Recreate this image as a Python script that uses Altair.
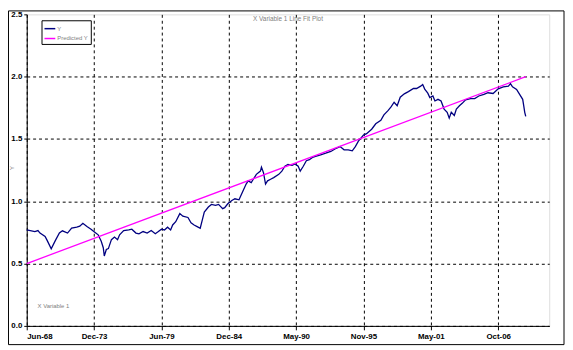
import json
import altair as alt
import pandas as pd

# ---- data ----
months = [0, 8, 11, 13, 18, 20, 24, 28, 32, 35, 40, 44, 49, 52, 55, 59, 63, 67, 70, 73,
          75, 76, 78, 80, 83, 86, 89, 91, 95, 100, 103, 107, 110, 114, 118, 122, 126, 129,
          132, 135, 138, 141, 143, 146, 150, 153, 158, 161, 164, 167, 170, 172, 174, 178,
          181, 185, 188, 192, 194, 197, 201, 204, 208, 212, 215, 217, 220, 222, 225, 229,
          230, 232, 234, 236, 239, 242, 247, 250, 253, 256, 260, 263, 266, 268, 271, 274,
          277, 280, 283, 288, 293, 298, 302, 307, 311, 315, 319, 322, 325, 330, 333, 338,
          342, 347, 350, 354, 357, 360, 363, 366, 370, 374, 379, 382, 386, 388, 390, 393,
          395, 398, 400, 403, 406, 409, 412, 414, 416, 419, 421, 424, 427, 430, 435, 439,
          443, 448, 452, 457, 462, 467, 472, 474, 476, 480, 483, 486, 487, 488, 489]
y_values = [0.77, 0.757, 0.765, 0.745, 0.718, 0.686, 0.618, 0.684, 0.745, 0.763, 0.745,
            0.784, 0.792, 0.80, 0.823, 0.797, 0.776, 0.75, 0.731, 0.679, 0.627, 0.561, 0.613,
            0.62, 0.692, 0.713, 0.692, 0.731, 0.765, 0.77, 0.776, 0.745, 0.739, 0.757, 0.745,
            0.765, 0.739, 0.757, 0.776, 0.77, 0.792, 0.77, 0.81, 0.836, 0.901, 0.88, 0.87,
            0.828, 0.81, 0.797, 0.784, 0.849, 0.914, 0.954, 0.975, 0.967, 0.975, 0.941, 0.949,
            0.98, 1.006, 1.02, 1.012, 1.085, 1.138, 1.164, 1.15, 1.177, 1.216, 1.242, 1.274,
            1.229, 1.138, 1.164, 1.177, 1.19, 1.216, 1.242, 1.281, 1.295, 1.289, 1.30, 1.281,
            1.242, 1.281, 1.326, 1.334, 1.352, 1.36, 1.373, 1.386, 1.40, 1.42, 1.439, 1.413,
            1.413, 1.405, 1.439, 1.483, 1.531, 1.543, 1.578, 1.622, 1.649, 1.693, 1.727, 1.757,
            1.795, 1.767, 1.835, 1.862, 1.88, 1.905, 1.905, 1.924, 1.937, 1.90, 1.868, 1.832,
            1.845, 1.805, 1.818, 1.805, 1.74, 1.714, 1.667, 1.714, 1.688, 1.74, 1.767, 1.788,
            1.814, 1.824, 1.824, 1.845, 1.858, 1.871, 1.865, 1.902, 1.918, 1.924, 1.944, 1.918,
            1.897, 1.858, 1.818, 1.767, 1.714, 1.682]
pred_months = [0, 489]
pred_values = [0.50, 2.00]
tick_months = [0, 66, 132, 198, 264, 330, 396, 462]
tick_labels = ["Jun-68", "Dec-73", "Jun-79", "Dec-84", "May-90", "Nov-95", "May-01", "Oct-06"]
y_ticks = [0.0, 0.5, 1.0, 1.5, 2.0, 2.5]
series_names = ["Y", "Predicted Y"]
series_colors = ["#000080", "#FF00FF"]

W, H = 530, 316
FONT = "Liberation Sans"

df_y = pd.DataFrame({"m": months, "v": y_values, "series": series_names[0]})
df_p = pd.DataFrame({"m": pred_months, "v": pred_values, "series": series_names[1]})

label_expr = json.dumps(tick_labels) + "[round(datum.value / 66)]"

x_enc = alt.X("m:Q", scale=alt.Scale(domain=[0, 512], nice=False, zero=False),
              axis=alt.Axis(values=tick_months, labelExpr=label_expr, title=None,
                            grid=True, gridDash=[3, 3], gridColor="black", gridWidth=1,
                            domainColor="black", domainWidth=1, tickColor="black", tickSize=4,
                            labelFont=FONT, labelFontSize=8, labelFontWeight="bold",
                            labelColor="black", labelPadding=3))
y_enc = alt.Y("v:Q", scale=alt.Scale(domain=[0, 2.5], nice=False),
              axis=alt.Axis(values=y_ticks, format=".1f", title=None,
                            grid=True, gridDash=[3, 3], gridColor="black", gridWidth=1,
                            gridOpacity={"condition": {"test": "datum.value >= 2.5", "value": 0}, "value": 1},
                            domainColor="black", domainWidth=1, tickColor="black", tickSize=3,
                            labelFont=FONT, labelFontSize=8, labelFontWeight="bold",
                            labelColor="black", labelPadding=2))
color_enc = alt.Color("series:N",
                      scale=alt.Scale(domain=series_names, range=series_colors),
                      legend=alt.Legend(title=None, orient="none", legendX=15, legendY=6,
                                        direction="vertical", strokeColor="black",
                                        fillColor="white", padding=2, symbolType="stroke",
                                        symbolSize=120, symbolStrokeWidth=1.5,
                                        labelFont=FONT, labelFontSize=6, labelColor="#808080",
                                        rowPadding=0, labelOffset=1, cornerRadius=0))

line_y = alt.Chart(df_y).mark_line(strokeWidth=1.3).encode(x=x_enc, y=y_enc, color=color_enc)
line_p = alt.Chart(df_p).mark_line(strokeWidth=1.3).encode(x=x_enc, y=y_enc, color=color_enc)

title_txt = alt.Chart(alt.Data(values=[{"t": "X Variable 1 Line Fit Plot"}])).mark_text(
    font=FONT, fontSize=6.5, color="#808080", align="center", baseline="middle"
).encode(x=alt.value(W / 2), y=alt.value(5), text="t:N")

xvar_txt = alt.Chart(alt.Data(values=[{"t": "X Variable 1"}])).mark_text(
    font=FONT, fontSize=6, color="#808080", align="left", baseline="middle"
).encode(x=alt.value(11), y=alt.value(296), text="t:N")

ytitle_txt = alt.Chart(alt.Data(values=[{"t": "Y"}])).mark_text(
    font=FONT, fontSize=6, color="#808080", align="center", baseline="middle", angle=270
).encode(x=alt.value(-15), y=alt.value(156), text="t:N")

frame = alt.Chart(alt.Data(values=[{}])).mark_rect(
    fill="transparent", stroke="black", strokeWidth=1
).encode(x=alt.value(-18.5), x2=alt.value(W + 15), y=alt.value(-3.5), y2=alt.value(H + 19))

chart = alt.layer(frame, line_y, line_p, title_txt, xvar_txt, ytitle_txt).properties(
    width=W, height=H,
    autosize=alt.AutoSizeParams(type="none"),
    padding={"left": 19, "top": 4, "right": 16, "bottom": 22},
).configure_view(stroke="#808080", strokeWidth=1).configure(background="white")

chart.save("out.html", embed_options={"renderer": "svg", "actions": False})
